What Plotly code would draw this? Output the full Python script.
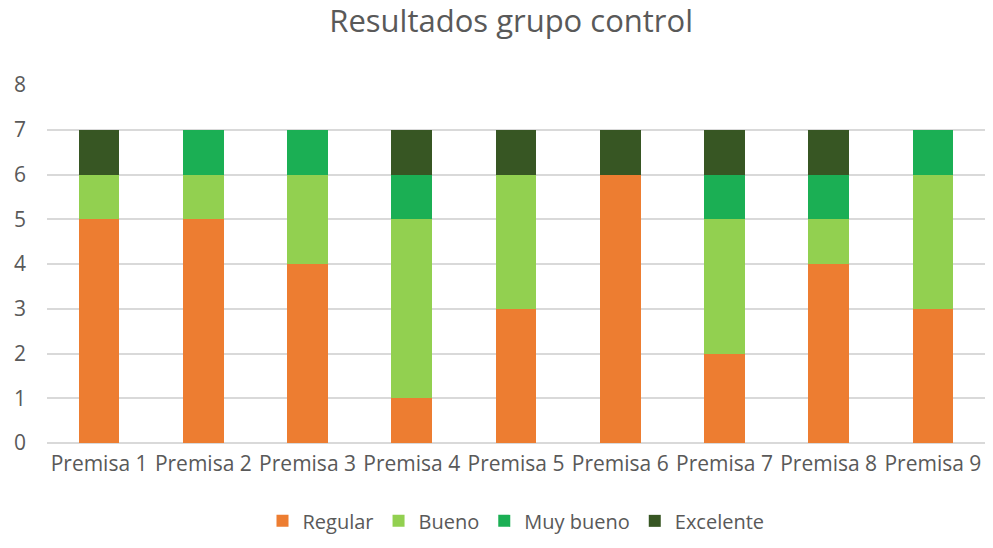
import plotly.graph_objects as go

premisas = [f"Premisa {i}" for i in range(1, 10)]
regular = [5, 5, 4, 1, 3, 6, 2, 4, 3]
bueno = [1, 1, 2, 4, 3, 0, 3, 1, 3]
muy_bueno = [0, 1, 1, 1, 0, 0, 1, 1, 1]
excelente = [1, 0, 0, 1, 1, 1, 1, 1, 0]

series = [
    ("Regular", regular, "#ED7D31"),
    ("Bueno", bueno, "#92D050"),
    ("Muy bueno", muy_bueno, "#1BAF54"),
    ("Excelente", excelente, "#375623"),
]

TEXT = "#595959"

fig = go.Figure()
for name, vals, color in series:
    fig.add_trace(go.Bar(x=premisas, y=vals, name=name, marker_color=color, marker_line_width=0))

# la página añade 8px de margen al body, por eso la figura es algo menor que la ventana
fig.update_layout(
    width=977,
    height=532,
    barmode="stack",
    bargap=0.61,
    title=dict(text="Resultados grupo control", x=0.515, xanchor="center",
               yref="container", y=0.995, yanchor="top", pad=dict(t=0, b=0),
               font=dict(size=31, color=TEXT)),
    font=dict(family="Open Sans", size=21, color=TEXT),
    plot_bgcolor="white",
    paper_bgcolor="white",
    margin=dict(l=39, r=0, t=77, b=97, autoexpand=False),
    legend=dict(orientation="h", x=0.5, xanchor="center",
                yref="container", y=0.036, yanchor="middle",
                font=dict(size=20, color=TEXT), traceorder="normal",
                itemwidth=30, tracegroupgap=0),
    showlegend=True,
)
fig.update_yaxes(range=[0, 8], dtick=1, showgrid=True, gridcolor="#D9D9D9", gridwidth=1.5,
                 zeroline=True, zerolinecolor="#D9D9D9", zerolinewidth=1.5, automargin=False,
                 ticklabelstandoff=20, tickfont=dict(size=21, color=TEXT))
fig.update_xaxes(showgrid=False, automargin=False, tickfont=dict(size=21, color=TEXT),
                 ticklabelstandoff=6)

fig.write_html("out.html")
